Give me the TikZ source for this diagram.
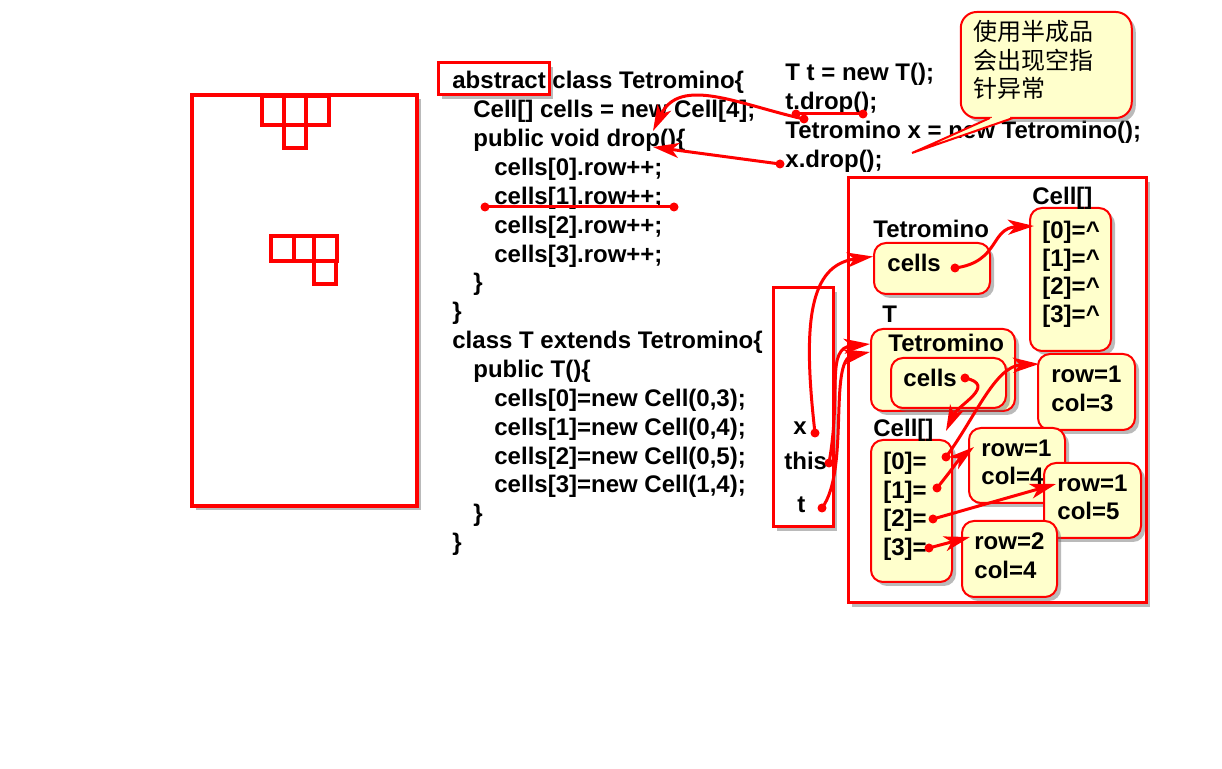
\documentclass[tikz,border=0pt]{standalone}
\usepackage{fontspec}
\setmainfont{Liberation Sans}
\newfontfamily\cjk{Noto Sans CJK SC}
\usetikzlibrary{arrows.meta,shadows,calc}
\definecolor{boxyellow}{HTML}{FFFFCC}
\begin{document}
\begin{tikzpicture}[x=0.5pt,y=-0.5pt,
  myshadow/.style={drop shadow={shadow xshift=2pt,shadow yshift=-2pt,opacity=0.45,fill=black!60}},
  txt/.style={anchor=base west,inner sep=0pt,font=\fontsize{12}{14}\selectfont\bfseries},
  cjktxt/.style={anchor=base west,inner sep=0pt,font=\fontsize{12}{14}\selectfont\cjk},
  frame/.style={draw=red,line width=1.5pt,fill=white,rectangle,inner sep=0pt,myshadow},
  membox/.style={draw=red,line width=1pt,fill=boxyellow,rectangle,rounded corners=6pt,inner sep=0pt,myshadow},
  dotn/.style={circle,fill=red,inner sep=0pt,minimum size=4.5pt},
  arr/.style={draw=red,line width=1.5pt,-{Stealth[length=13pt,width=7.5pt,inset=3.5pt]}},
  rline/.style={draw=red,line width=1.5pt},
  cellsq/.style={draw=red,line width=1.6pt}]
\useasboundingbox (0,0) rectangle (1222,769);

% ---------- board ----------
\node[frame,line width=1.75pt,minimum width=112.5pt,minimum height=205.5pt] (board) at (304.5,300.5) {};
\draw[cellsq] (262,96) rectangle (284,125);
\draw[cellsq] (284,96) rectangle (306,125);
\draw[cellsq] (306,96) rectangle (329,125);
\draw[cellsq] (284,125) rectangle (306,148);
\draw[cellsq] (271,236) rectangle (294,261);
\draw[cellsq] (294,236) rectangle (314,261);
\draw[cellsq] (314,236) rectangle (337,261);
\draw[cellsq] (314,261) rectangle (336,284);

% ---------- code ----------
\node[frame,minimum width=55.5pt,minimum height=16pt] (absbox) at (493.5,79) {};
\node[txt] (c1) at (452,89) {abstract class Tetromino\{};
\node[txt] (c2) at (473,117.85) {Cell[] cells = new Cell[4];};
\node[txt] (c3) at (473,146.7) {public void drop()\{};
\node[txt] (c4) at (494,175.55) {cells[0].row++;};
\node[txt] (c5) at (494,204.4) {cells[1].row++;};
\node[txt] (c6) at (494,233.25) {cells[2].row++;};
\node[txt] (c7) at (494,262.1) {cells[3].row++;};
\node[txt] (c8) at (473,290.95) {\}};
\node[txt] (c9) at (452,319.8) {\}};
\node[txt] (c10) at (452,348.65) {class T extends Tetromino\{};
\node[txt] (c11) at (473,377.5) {public T()\{};
\node[txt] (c12) at (494,406.35) {cells[0]=new Cell(0,3);};
\node[txt] (c13) at (494,435.2) {cells[1]=new Cell(0,4);};
\node[txt] (c14) at (494,464.05) {cells[2]=new Cell(0,5);};
\node[txt] (c15) at (494,492.9) {cells[3]=new Cell(1,4);};
\node[txt] (c16) at (473,521.75) {\}};
\node[txt] (c17) at (452,550.6) {\}};

\node[txt] (r1) at (785,81) {T t = new T();};
\node[txt] (r2) at (785,110) {t.drop();};
\node[txt] (r3) at (785,139) {Tetromino x = new Tetromino();};
\node[txt] (r4) at (785,167.5) {x.drop();};

% ---------- callout ----------
\node[draw=red,line width=1pt,fill=boxyellow,rounded corners=8pt,minimum width=85.5pt,minimum height=53pt,inner sep=0pt,myshadow] (note) at (1046.25,65) {};
\fill[boxyellow] (990,118) -- (912,153) -- (1013,118) -- cycle;
\fill[boxyellow] (992,116.5) rectangle (1010,119.5);
\coordinate (ptip) at (912,153);
\draw[red,line width=1pt,line join=miter] (990,118) -- (ptip) -- (1013,118);
\node[cjktxt] (n1) at (973,41) {使用半成品};
\node[cjktxt] (n2) at (973,69.5) {会出现空指};
\node[cjktxt] (n3) at (973,98) {针异常};

% ---------- memory ----------
\node[frame,minimum width=149pt,minimum height=212.5pt] (heap) at (997,390.5) {};
\node[frame,minimum width=30pt,minimum height=119.5pt] (stack) at (803,407.5) {};

\node[membox,minimum width=40.5pt,minimum height=71.5pt] (arrA) at (1070.5,279.5) {};
\node[membox,minimum width=58pt,minimum height=25.5pt] (cellsA) at (932,268.5) {};
\node[membox,minimum width=72pt,minimum height=41pt] (tobj) at (943,370) {};
\node[membox,minimum width=57.5pt,minimum height=25pt] (cellsB) at (948.5,383) {};
\node[membox,minimum width=40.5pt,minimum height=71pt] (arrB) at (911.5,511) {};
\node[membox,minimum width=48.5pt,minimum height=38pt] (o03) at (1086.5,392) {};
\node[txt] (o03a) at (1051,383) {row=1};
\node[txt] (o03b) at (1051,412) {col=3};
\node[membox,minimum width=48pt,minimum height=37.5pt] (o04) at (1017,465.5) {};
\node[txt] (o04a) at (981,457) {row=1};
\node[txt] (o04b) at (981,485) {col=4};
\node[membox,minimum width=48.5pt,minimum height=37.5pt] (o05) at (1092.5,500.5) {};
\node[txt] (o05a) at (1057,492) {row=1};
\node[txt] (o05b) at (1057,519.5) {col=5};
\node[membox,minimum width=47.5pt,minimum height=38pt] (o14) at (1009.5,559) {};
\node[txt] (o14a) at (974,550) {row=2};
\node[txt] (o14b) at (974,578.5) {col=4};

\node[txt] (lTetA) at (873,238) {Tetromino};
\node[txt] (lcellsA) at (887,272) {cells};
\node[txt] (lArrA) at (1032,205) {Cell[]};
\node[txt] (a0) at (1042,239) {[0]=\textasciicircum};
\node[txt] (a1) at (1042,267) {[1]=\textasciicircum};
\node[txt] (a2) at (1042,295) {[2]=\textasciicircum};
\node[txt] (a3) at (1042,323) {[3]=\textasciicircum};
\node[txt] (lT) at (882,323) {T};
\node[txt] (lTetB) at (888,352) {Tetromino};
\node[txt] (lcellsB) at (903,387) {cells};
\node[txt] (lArrB) at (873,437) {Cell[]};
\node[txt] (b0) at (883,470) {[0]=};
\node[txt] (b1) at (883,498.5) {[1]=};
\node[txt] (b2) at (883,527) {[2]=};
\node[txt] (b3) at (883,555.5) {[3]=};

\node[txt] (sx) at (793,435) {x};
\node[txt] (sthis) at (784,470) {this};
\node[txt] (st) at (797,513) {t};

% ---------- dots ----------
\node[dotn] (dA) at (796,114) {};
\node[dotn] (dB) at (863,114) {};
\node[dotn] (dC) at (804,119) {};
\node[dotn] (dD) at (780,164) {};
\node[dotn] (dE) at (485,207) {};
\node[dotn] (dF) at (674,207) {};
\node[dotn] (dx) at (815,433) {};
\node[dotn] (dthis) at (829,463) {};
\node[dotn] (dt) at (822,508) {};
\node[dotn] (dcA) at (955,268) {};
\node[dotn] (dcB) at (965,378) {};
\node[dotn] (d0) at (946,457) {};
\node[dotn] (d1) at (937,488) {};
\node[dotn] (d2) at (933,519) {};
\node[dotn] (d3) at (929,548) {};
\coordinate (dropA) at (653,131);
\coordinate (dropB) at (653,147);

% ---------- connectors ----------
\draw[rline] (dA.center) -- (dB.center);
\draw[rline] (dE.center) -- (dF.center);
\draw[arr] (dC.center) .. controls (740,105) and (680,75) .. (dropA);
\draw[arr] (dD.center) -- (dropB);

\draw[arr] (dx.center) .. controls (802,320) and (810,265) .. ($(cellsA.west)+(0,-12)$);
\draw[arr] (dthis.center) .. controls (842,390) and (825,348) .. ($(tobj.west)+(0,-26)$);
\draw[arr] (dt.center) .. controls (850,470) and (828,360) .. ($(tobj.west)+(0,-18)$);
\draw[arr] (dcA.center) .. controls (1000,262) and (990,228) .. ($(arrA.west)+(5,-53.5)$);
\draw[arr] (dcB.center) .. controls (998,385) and (958,405) .. ($(arrB.north)+(34.5,-8)$);
\draw[arr] (d0.center) .. controls (975,418) and (995,366) .. ($(o03.west)+(2,-28)$);
\draw[arr] (d1.center) .. controls (950,472) and (960,458) .. ($(o04.west)+(6,-18.5)$);
\draw[arr] (d2.center) -- ($(o05.west)+(13,-16.5)$);
\draw[arr] (d3.center) -- ($(o14.west)+(9,-22)$);
\end{tikzpicture}
\end{document}
